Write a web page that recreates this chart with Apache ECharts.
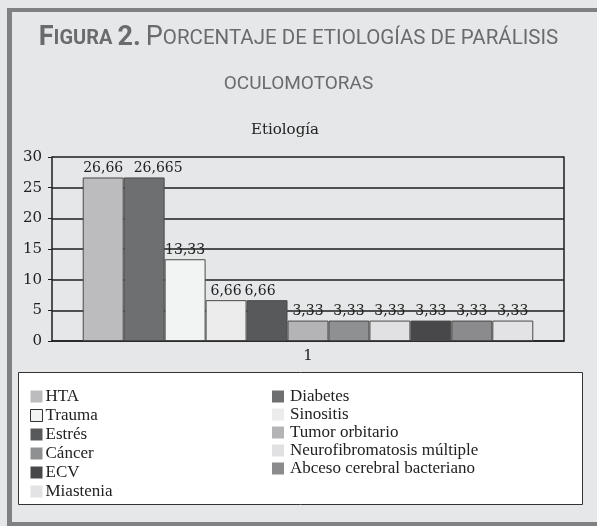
<!DOCTYPE html>
<html>
<head>
<meta charset="utf-8">
<script src="https://cdn.jsdelivr.net/npm/echarts@6/dist/echarts.min.js"></script>
<style>
  html, body { margin: 0; padding: 0; background: #e6e7e8; overflow: hidden; }
  /* tamaño fijo del lienzo */
  #myChart { width: 597px; height: 526px; }
</style>
</head>
<body>
<div id="myChart"></div>
<script>
// datos de la figura
var categorias = ['1']
var etiologias = ['HTA', 'Diabetes', 'Trauma', 'Sinositis', 'Estrés', 'Tumor orbitario',
  'Cáncer', 'Neurofibromatosis múltiple', 'ECV', 'Abceso cerebral bacteriano', 'Miastenia']
var porcentajes = [26.66, 26.665, 13.33, 6.66, 6.66, 3.33, 3.33, 3.33, 3.33, 3.33, 3.33]
var colores = ['#bcbcbe', '#6e6f71', '#f2f3f3', '#ececed', '#58595b', '#b4b4b6',
  '#8f9092', '#e1e1e3', '#48484a', '#8b8b8d', '#e3e3e5']
var ejeY = { min: 0, max: 30, interval: 5 }

var serif = 'DejaVu Serif'
var grisTitulo = '#6a6b6d'
// desplazamiento de etiquetas que se pisan (como en el original)
var ajusteEtiqueta = { 'Diabetes': [14, 0], 'Estrés': [-7, 0] }

var series = etiologias.map(function (nombre, i) {
  return {
    name: nombre,
    type: 'bar',
    data: [porcentajes[i]],
    barGap: 0,
    barCategoryGap: '12%',
    itemStyle: { color: colores[i], borderColor: '#4a4a4a', borderWidth: 1 },
    label: {
      show: true,
      position: 'top',
      distance: 2,
      offset: ajusteEtiqueta[nombre] || [0, 0],
      fontFamily: serif,
      fontSize: 14,
      color: '#222',
      formatter: function (p) { return String(p.value).replace('.', ',') }
    }
  }
})

// leyenda en dos columnas, el orden es por filas
var legendItem = function (nombre) {
  if (nombre === 'Trauma') {
    return { name: nombre, itemStyle: { borderColor: '#333', borderWidth: 1 } }
  }
  return { name: nombre, itemStyle: { borderWidth: 0 } }
}
var colIzq = etiologias.filter(function (n, i) { return i % 2 === 0 }).map(legendItem)
var colDer = etiologias.filter(function (n, i) { return i % 2 === 1 }).map(legendItem)

var legendText = function (pad) {
  return { fontFamily: 'Liberation Serif', fontSize: 17, color: '#222', lineHeight: 16, padding: [0, 0, 0, pad] }
}

var chart = echarts.init(document.getElementById('myChart'), null, { renderer: 'canvas' })
chart.setOption({
  backgroundColor: '#e6e7e8',
  animation: false,
  title: [
    {
      left: 'center',
      top: 20,
      text: '{b|F}{bs|IGURA} {b|2.} {l|P}{ls|ORCENTAJE DE ETIOLOGÍAS DE PARÁLISIS}',
      textStyle: {
        fontWeight: 'normal',
        rich: {
          b: { fontFamily: 'Roboto', fontWeight: 'bold', fontSize: 27, color: grisTitulo },
          bs: { fontFamily: 'Roboto', fontWeight: 'bold', fontSize: 20, color: grisTitulo },
          l: { fontFamily: 'Roboto', fontWeight: 'normal', fontSize: 27, color: grisTitulo },
          ls: { fontFamily: 'Roboto', fontWeight: 'normal', fontSize: 20.5, color: grisTitulo }
        }
      }
    },
    {
      left: 'center',
      top: 70,
      text: 'OCULOMOTORAS',
      textStyle: { fontFamily: 'Roboto', fontWeight: 'normal', fontSize: 19, color: grisTitulo }
    }
  ],
  graphic: [
    // marco gris
    { type: 'rect', shape: { x: 7, y: 8, width: 590, height: 4 }, style: { fill: '#808183' } },
    { type: 'rect', shape: { x: 7, y: 8, width: 5, height: 518 }, style: { fill: '#808183' } },
    { type: 'rect', shape: { x: 7, y: 522, width: 590, height: 4 }, style: { fill: '#808183' } },
    // caja de la leyenda
    { type: 'rect', z: -1, shape: { x: 18.5, y: 372.5, width: 564, height: 132 }, style: { fill: '#ffffff', stroke: '#333', lineWidth: 1 } },
    {
      type: 'text', x: 285, y: 130,
      style: { text: 'Etiología', font: '15px "DejaVu Serif"', fill: '#222', textAlign: 'center', textVerticalAlign: 'middle' }
    }
  ],
  legend: [
    {
      left: 30, top: 388, padding: 0, orient: 'vertical', icon: 'rect',
      itemWidth: 12, itemHeight: 12, itemGap: 2, selectedMode: false,
      textStyle: legendText(-2),
      data: colIzq
    },
    {
      left: 272, top: 388, padding: 0, orient: 'vertical', icon: 'rect',
      itemWidth: 12, itemHeight: 12, itemGap: 1, selectedMode: false,
      textStyle: legendText(1),
      data: colDer
    }
  ],
  grid: { left: 52, right: 33, top: 157, bottom: 185 },
  xAxis: {
    type: 'category',
    data: categorias,
    axisLine: { lineStyle: { color: '#1e1e1e', width: 1.5 } },
    axisTick: { show: false },
    axisLabel: { fontFamily: serif, fontSize: 15, color: '#222', margin: 8 }
  },
  yAxis: [
    {
      type: 'value',
      min: ejeY.min,
      max: ejeY.max,
      interval: ejeY.interval,
      axisLine: { show: true, lineStyle: { color: '#1e1e1e', width: 1.5 } },
      axisTick: { show: true, length: 4, lineStyle: { color: '#1e1e1e' } },
      axisLabel: { fontFamily: serif, fontSize: 15, color: '#222', margin: 10 },
      splitLine: { lineStyle: { color: '#1e1e1e', width: 1.5 } }
    },
    {
      // borde derecho del área de trazado
      type: 'value',
      position: 'right',
      min: ejeY.min,
      max: ejeY.max,
      interval: ejeY.interval,
      axisLine: { show: true, lineStyle: { color: '#1e1e1e', width: 1.5 } },
      axisTick: { show: false },
      axisLabel: { show: false },
      splitLine: { show: false }
    }
  ],
  series: series
})
</script>
</body>
</html>
